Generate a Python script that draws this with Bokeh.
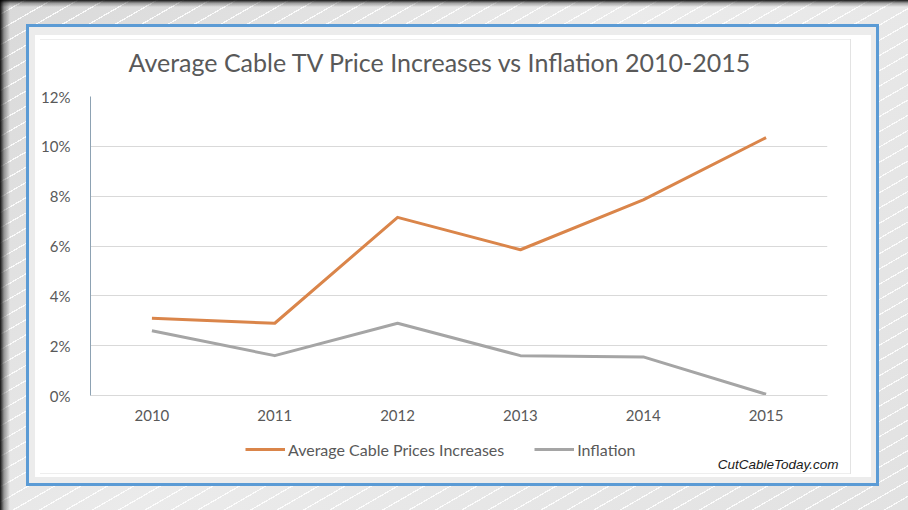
from bokeh.plotting import figure
from bokeh.layouts import column
from bokeh.models import (FactorRange, Range1d, Title, Label, Legend, LegendItem,
                          FixedTicker, PrintfTickFormatter, GlobalInlineStyleSheet)
from bokeh.embed import file_html
from bokeh.resources import INLINE

# ---- data ----
years = ["2010", "2011", "2012", "2013", "2014", "2015"]
cable_increase = [3.1, 2.9, 7.15, 5.85, 7.85, 10.35]
inflation = [2.6, 1.6, 2.9, 1.6, 1.55, 0.05]
y_ticks = [0, 2, 4, 6, 8, 10, 12]
title_text = "Average Cable TV Price Increases vs Inflation 2010-2015"
series_names = ["Average Cable Prices Increases", "Inflation"]
credit_text = "CutCableToday.com"

FONT = "Lato"
TXT = "#595959"
ORANGE = "#da854a"
GRAY = "#a5a5a5"
NAN = float("nan")

W, H = 908, 510
H1 = 430
H2 = H - H1

# ---------- main chart ----------
p = figure(width=W, height=H1,
           x_range=FactorRange(*years), y_range=Range1d(0, 12),
           output_backend="svg", toolbar_location=None,
           min_border_left=90, min_border_right=81,
           min_border_top=96, min_border_bottom=H1 - 395)
p.border_fill_alpha = 0
p.background_fill_color = "white"
p.outline_line_color = None

p.title = Title(text=title_text, align="left", offset=38, text_font=FONT,
                text_font_size="25px", text_font_style="normal", text_color=TXT,
                standoff=39)

p.yaxis.ticker = FixedTicker(ticks=y_ticks)
p.yaxis.formatter = PrintfTickFormatter(format="%d%%")
p.yaxis.axis_line_color = "#8da2b3"
p.yaxis.axis_line_width = 1
p.yaxis.major_tick_line_color = None
p.yaxis.minor_tick_line_color = None
p.yaxis.major_label_standoff = 14
p.xaxis.axis_line_color = "#d9d9d9"
p.xaxis.major_tick_line_color = None
p.xaxis.minor_tick_line_color = None
p.xaxis.major_label_standoff = 8
for ax in (p.xaxis, p.yaxis):
    ax.major_label_text_font = FONT
    ax.major_label_text_font_size = "15px"
    ax.major_label_text_color = TXT
p.xgrid.grid_line_color = None
p.ygrid.ticker = FixedTicker(ticks=y_ticks)
p.ygrid.grid_line_color = "#d9d9d9"
p.ygrid.grid_line_width = 1

r1 = p.line(x=years, y=cable_increase, line_color=ORANGE, line_width=3, line_join="round")
r2 = p.line(x=years, y=inflation, line_color=GRAY, line_width=3, line_join="round")

# ---------- legend / credit strip ----------
q = figure(width=W, height=H2, x_range=Range1d(0, W), y_range=Range1d(0, H2),
           x_axis_type=None, y_axis_type=None,
           output_backend="svg", toolbar_location=None,
           min_border=0, min_border_left=0, min_border_right=0,
           min_border_top=0, min_border_bottom=0)
try:
    p.frame_align = False
    q.frame_align = False
except Exception:
    pass
q.border_fill_alpha = 0
q.background_fill_alpha = 0
q.outline_line_color = None
q.grid.grid_line_color = None

# legend-only renderers (single NaN point: nothing drawn in the strip itself)
l1 = q.line(x=[NAN], y=[NAN], line_color=ORANGE, line_width=3)
l2 = q.line(x=[NAN], y=[NAN], line_color=GRAY, line_width=3)

legend = Legend(items=[LegendItem(label=series_names[0], renderers=[l1]),
                       LegendItem(label=series_names[1], renderers=[l2])],
                orientation="horizontal", location=(245, H2 - 29),
                padding=0, margin=0, spacing=30, label_standoff=3,
                glyph_width=40, glyph_height=20, label_height=20,
                border_line_color=None, background_fill_alpha=0,
                label_text_font=FONT, label_text_font_size="16px",
                label_text_color=TXT)
q.add_layout(legend, "center")

q.add_layout(Label(x=838, y=H2 - 34, x_units="screen", y_units="screen",
                   text=credit_text, text_align="right", text_baseline="middle",
                   text_font="Liberation Sans", text_font_style="italic",
                   text_font_size="13.5px", text_color="#1a1a1a"))


def rect(color, x, y, w, h):
    return f"linear-gradient({color},{color}) {x}px {y}px / {w}px {h}px no-repeat"


layers = [
    "linear-gradient(to right, rgba(0,0,0,0.92), rgba(0,0,0,0.35) 40%, rgba(0,0,0,0)) 0px 0px / 10px 100% no-repeat",
    "linear-gradient(to bottom, rgba(0,0,0,0.9), rgba(0,0,0,0.3) 45%, rgba(0,0,0,0)) 0px 0px / 100% 7px no-repeat",
    rect("#e3e3e3", 850, 39, 1, 435),
    rect("#eeeeee", 40, 39, 811, 1),
    rect("#eeeeee", 40, 473, 811, 1),
    rect("#ffffff", 35, 35, 836, 442),
    rect("#ececec", 29, 27, 847, 456),
    rect("#5b9bd5", 26, 24, 853, 462),
    "repeating-linear-gradient(150deg, rgba(255,255,255,0) 0px, rgba(255,255,255,0) 12px, "
    "rgba(255,255,255,0.85) 12px, rgba(255,255,255,0.85) 13.2px) 0px 0px / 100% 100% no-repeat",
    "linear-gradient(135deg, #d9d9d9 0%, #ebebeb 45%, #e2e2e2 100%) 0px 0px / 100% 100% no-repeat",
]

page = column(p, q, width=W, height=H, spacing=0,
              styles={"background": ", ".join(layers)})
page.stylesheets = [GlobalInlineStyleSheet(
    css="html,body{margin:0;padding:0;overflow:hidden;background:#e4e4e4;}")]

open("out.html", "w").write(file_html(page, INLINE))
